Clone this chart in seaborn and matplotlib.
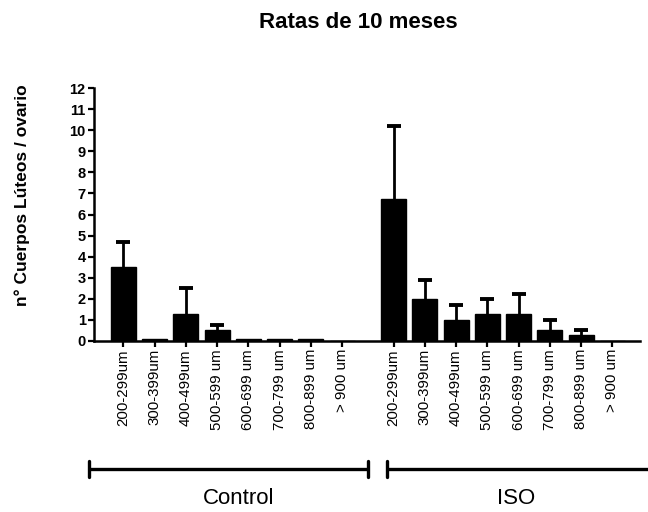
import numpy as np
import pandas as pd
import matplotlib
matplotlib.use("Agg")
import matplotlib.pyplot as plt
import matplotlib.transforms as mtransforms
import seaborn as sns

# ---- data ----
sizes = ["200-299um", "300-399um", "400-499um", "500-599 um",
         "600-699 um", "700-799 um", "800-899 um", "> 900 um"]
groups = ["Control", "ISO"]
control_mean = [3.5, 0.06, 1.25, 0.5, 0.06, 0.06, 0.06, 0.0]
control_top = [4.7, 0.06, 2.5, 0.75, 0.06, 0.06, 0.06, 0.0]
iso_mean = [6.75, 2.0, 1.0, 1.25, 1.25, 0.5, 0.25, 0.0]
iso_top = [10.2, 2.9, 1.7, 2.0, 2.2, 1.0, 0.5, 0.0]
title = "Ratas de 10 meses"
ylabel = "n° Cuerpos Lúteos / ovario"
yticks = list(range(0, 13))

# ---- layout helpers ----
group_gap = 1.64
n = len(sizes)
pos_control = np.arange(n, dtype=float)
pos_iso = np.arange(n, dtype=float) + (n - 1) + group_gap

df = pd.DataFrame({
    "pos": np.concatenate([pos_control, pos_iso]),
    "mean": control_mean + iso_mean,
    "top": control_top + iso_top,
    "group": [groups[0]] * n + [groups[1]] * n,
    "size": sizes + sizes,
})

sns.set_theme(style="ticks")
plt.rcParams["font.family"] = ["Liberation Sans", "DejaVu Sans"]
for k in ["text.color", "axes.labelcolor", "xtick.color", "ytick.color",
          "axes.edgecolor"]:
    plt.rcParams[k] = "black"

fig = plt.figure(figsize=(6.48, 5.12), dpi=100)
ax = fig.add_axes([0.145, 0.3346, 0.843, 0.4929])

sns.barplot(data=df, x="pos", y="mean", native_scale=True, width=0.8,
            color="black", edgecolor="black", linewidth=1.0,
            errorbar=None, ax=ax, saturation=1)

err = df[df["top"] > df["mean"]]
eb = ax.errorbar(err["pos"], err["mean"],
                 yerr=[np.zeros(len(err)), err["top"] - err["mean"]],
                 fmt="none", ecolor="black", elinewidth=2.0,
                 capsize=4.7, capthick=2.8, zorder=3)
# keep only the upper caps
eb[1][0].set_visible(False)

ax.set_xlim(-0.94, 16.53)
ax.set_ylim(0, 12)
ax.set_yticks(yticks)
ax.set_yticklabels([str(t) for t in yticks], fontsize=10.5, fontweight="bold")
ax.set_xticks(df["pos"])
ax.set_xticklabels(df["size"], rotation=90, fontsize=10.8)
ax.set_xlabel("")
ax.set_ylabel(ylabel, fontsize=12.5, fontweight="bold", va="center",
              color="black")
ax.yaxis.set_label_coords(-0.132, 0.577)

for s in ["top", "right"]:
    ax.spines[s].set_visible(False)
for s in ["left", "bottom"]:
    ax.spines[s].set_linewidth(1.8)
    ax.spines[s].set_color("black")
ax.tick_params(axis="both", length=4, width=1.6, color="black", pad=2,
               labelcolor="black")

# group brackets
trans = mtransforms.blended_transform_factory(ax.transData, ax.transAxes)
y_br = -0.508
brackets = [(pos_control[0] - 1.09, pos_control[-1] + 0.81),
            (pos_iso[0] - 0.21, pos_iso[-1] + 2.5)]
for (x0, x1), g in zip(brackets, groups):
    ax.plot([x0, x1], [y_br, y_br], color="black", lw=2.4,
            transform=trans, clip_on=False, solid_capstyle="butt")
    for xe in (x0, x1):
        ax.plot([xe, xe], [y_br - 0.033, y_br + 0.033], color="black",
                lw=2.4, transform=trans, clip_on=False)
label_x = [(pos_control[0] + pos_control[-1]) / 2 + 0.2,
           (pos_iso[0] + pos_iso[-1]) / 2 + 0.42]
for lx, g in zip(label_x, groups):
    ax.text(lx, -0.627, g, transform=trans, ha="center", va="center",
            fontsize=16, color="black", clip_on=False)

fig.suptitle(title, x=358 / 648, y=1 - 22 / 512, va="center",
             fontsize=16, fontweight="bold", color="black")

fig.savefig("out.png", dpi=100)
